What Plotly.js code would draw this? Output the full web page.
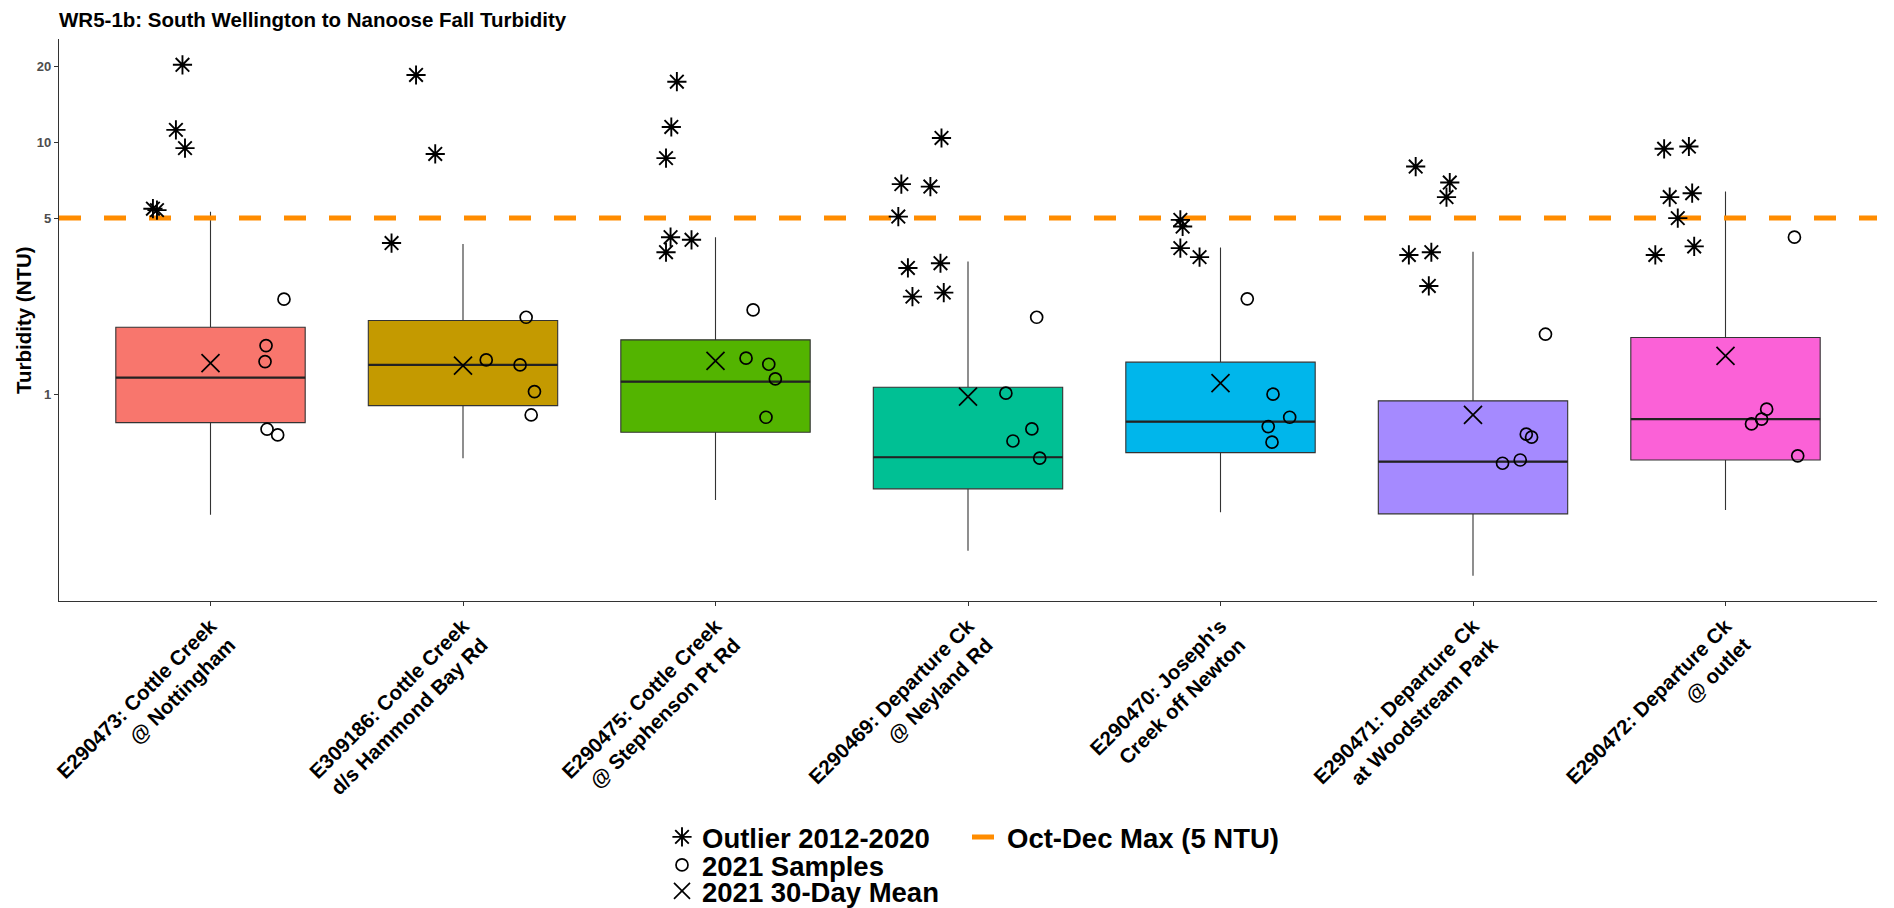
<!DOCTYPE html>
<html>
<head>
<meta charset="utf-8">
<script src="https://cdn.plot.ly/plotly-3.0.1.min.js"></script>
<style>html,body{margin:0;padding:0;background:#fff;}#chart{width:1894px;height:908px;}</style>
</head>
<body>
<div id="chart"></div>
<script>
// ---------------- data ----------------
const stations = [
  "E290473: Cottle Creek<br>@ Nottingham",
  "E309186: Cottle Creek<br>d/s Hammond Bay Rd",
  "E290475: Cottle Creek<br>@ Stephenson Pt Rd",
  "E290469: Departure Ck<br>@ Neyland Rd",
  "E290470: Joseph's<br>Creek off Newton",
  "E290471: Departure Ck<br>at Woodstream Park",
  "E290472: Departure Ck<br>@ outlet"
];
const boxColors = ["#F8766D", "#C49A00", "#53B400", "#00C094", "#00B6EB", "#A58AFF", "#FB61D7"];

// 2012-2020 box statistics (NTU)
const lowerWhisker = [0.332, 0.557, 0.380, 0.239, 0.340, 0.190, 0.347];
const q1           = [0.771, 0.901, 0.706, 0.421, 0.586, 0.335, 0.548];
const median       = [1.164, 1.307, 1.122, 0.562, 0.778, 0.540, 0.796];
const q3           = [1.845, 1.960, 1.643, 1.066, 1.340, 0.941, 1.678];
const upperWhisker = [5.30, 3.95, 4.20, 3.36, 3.82, 3.68, 6.38];

// 2021 30-day mean (NTU)
const mean2021 = [1.328, 1.299, 1.356, 0.978, 1.106, 0.828, 1.419];

// Outliers 2012-2020 (NTU), per station, and their horizontal jitter (category units)
const outlierValues = [
  [20.3, 11.2, 9.48, 5.45, 5.38],
  [18.5, 8.99, 3.98],
  [17.4, 11.5, 8.65, 4.2, 4.1, 3.66],
  [10.4, 6.82, 6.67, 5.07, 3.31, 3.17, 2.53, 2.44],
  [4.92, 4.63, 3.8, 3.5],
  [8.01, 6.92, 6.06, 3.66, 3.57, 2.69],
  [9.62, 9.42, 6.28, 6.06, 5.0, 3.86, 3.57]
];
const outlierJitter = [
  [-0.111, -0.137, -0.101, -0.228, -0.212],
  [-0.186, -0.110, -0.283],
  [-0.153, -0.175, -0.196, -0.178, -0.095, -0.196],
  [-0.105, -0.264, -0.149, -0.276, -0.109, -0.238, -0.096, -0.220],
  [-0.159, -0.150, -0.159, -0.083],
  [-0.227, -0.092, -0.105, -0.165, -0.254, -0.175],
  [-0.145, -0.243, -0.132, -0.221, -0.189, -0.124, -0.278]
];

// 2021 samples (NTU), per station, and their horizontal jitter (category units)
const sampleValues = [
  [2.384, 1.56, 1.347, 0.726, 0.689],
  [2.02, 1.368, 1.307, 1.024, 0.827],
  [2.16, 1.39, 1.315, 1.15, 0.81],
  [2.02, 1.009, 0.728, 0.652, 0.557],
  [2.39, 1.0, 0.81, 0.744, 0.645],
  [1.73, 0.694, 0.675, 0.548, 0.532],
  [4.2, 0.872, 0.796, 0.762, 0.569]
];
const sampleJitter = [
  [0.291, 0.220, 0.216, 0.224, 0.266],
  [0.250, 0.092, 0.226, 0.283, 0.270],
  [0.149, 0.121, 0.211, 0.237, 0.200],
  [0.272, 0.150, 0.253, 0.178, 0.284],
  [0.106, 0.208, 0.274, 0.189, 0.204],
  [0.287, 0.211, 0.232, 0.187, 0.117],
  [0.273, 0.163, 0.143, 0.103, 0.286]
];

const threshold = 5; // Oct-Dec Max (5 NTU)
const yTicks = [1, 5, 10, 20];

// ---------------- chart ----------------
const W = 1894, H = 908;
const FONT = "'Liberation Sans', Arial, Helvetica, sans-serif";
const idx = stations.map((_, i) => i);
const boxWidth = 0.75;
const xRange = [-0.6, stations.length - 0.4];

const traces = [];

// threshold line (drawn first so it is under everything)
traces.push({
  type: 'scatter', mode: 'lines', name: 'Oct-Dec Max (5 NTU)',
  x: xRange, y: xRange.map(() => threshold),
  line: {color: '#FF8C00', width: 5, dash: '22px,23px'},
  legend: 'legend4', hoverinfo: 'skip'
});

idx.forEach(i => {
  traces.push({
    type: 'box', x: [i],
    q1: [q1[i]], median: [median[i]], q3: [q3[i]],
    lowerfence: [lowerWhisker[i]], upperfence: [upperWhisker[i]],
    width: boxWidth, whiskerwidth: 0, boxpoints: false,
    fillcolor: boxColors[i], line: {color: '#333333', width: 1.1},
    showlegend: false, hoverinfo: 'skip'
  });
});

// thicker median lines (ggplot style)
traces.push({
  type: 'scatter', mode: 'lines', showlegend: false, hoverinfo: 'skip',
  x: idx.flatMap(i => [i - boxWidth / 2, i + boxWidth / 2, null]),
  y: median.flatMap(m => [m, m, null]),
  line: {color: '#222222', width: 2.2}
});

traces.push({
  type: 'scatter', mode: 'markers', name: 'Outlier 2012-2020', legend: 'legend',
  x: outlierValues.flatMap((vals, i) => vals.map((v, k) => i + outlierJitter[i][k])),
  y: outlierValues.flat(),
  marker: {symbol: 'asterisk-open', size: 16, color: '#000', line: {width: 1.9, color: '#000'}},
  hoverinfo: 'skip'
});
traces.push({
  type: 'scatter', mode: 'markers', name: '2021 Samples', legend: 'legend2',
  x: sampleValues.flatMap((vals, i) => vals.map((v, k) => i + sampleJitter[i][k])),
  y: sampleValues.flat(),
  marker: {symbol: 'circle-open', size: 12, color: '#000', line: {width: 1.7, color: '#000'}},
  hoverinfo: 'skip'
});
traces.push({
  type: 'scatter', mode: 'markers', name: '2021 30-Day Mean', legend: 'legend3',
  x: idx, y: mean2021,
  marker: {symbol: 'x-thin-open', size: 18, color: '#000', line: {width: 1.7, color: '#000'}},
  hoverinfo: 'skip'
});

function legendAt(xPx, yPx) {
  return {
    xref: 'container', yref: 'container', x: xPx / W, y: 1 - yPx / H,
    xanchor: 'left', yanchor: 'middle', bgcolor: 'rgba(0,0,0,0)', borderwidth: 0,
    font: {family: FONT, size: 27.5, color: '#000', weight: 700},
    itemwidth: 30, tracegroupgap: 0
  };
}

const layout = {
  width: W, height: H,
  margin: {l: 59, r: 17, t: 39, b: 307, autoexpand: false},
  paper_bgcolor: '#ffffff', plot_bgcolor: '#ffffff',
  font: {family: FONT, color: '#000'},
  boxmode: 'overlay',
  title: {
    text: 'WR5-1b: South Wellington to Nanoose Fall Turbidity',
    xref: 'container', x: 59 / W, xanchor: 'left',
    yref: 'container', y: 1 - 20 / H, yanchor: 'middle',
    font: {family: FONT, size: 20.5, color: '#000', weight: 700}
  },
  xaxis: {
    range: xRange, tickmode: 'array', tickvals: idx, ticktext: stations,
    tickangle: -45, tickfont: {family: FONT, size: 20.5, color: '#000', weight: 700},
    showline: true, linecolor: '#333333', linewidth: 1.1, mirror: false,
    ticks: 'outside', ticklen: 4, tickcolor: '#333333', tickwidth: 1,
    showgrid: false, zeroline: false, automargin: false
  },
  yaxis: {
    type: 'log', range: [-0.821, 1.41], tickmode: 'array', tickvals: yTicks,
    ticktext: yTicks.map(String),
    tickfont: {family: FONT, size: 13, color: '#4d4d4d', weight: 700},
    showline: true, linecolor: '#333333', linewidth: 1.1, mirror: false,
    ticks: 'outside', ticklen: 4, tickcolor: '#333333', tickwidth: 1,
    showgrid: false, zeroline: false, automargin: false
  },
  annotations: [{
    text: 'Turbidity (NTU)', textangle: -90,
    xref: 'paper', x: 0, xanchor: 'center', xshift: -36,
    yref: 'paper', y: 0.5, yanchor: 'middle',
    showarrow: false,
    font: {family: FONT, size: 20.5, color: '#000', weight: 700}
  }],
  legend: legendAt(662, 837),
  legend2: legendAt(662, 865),
  legend3: legendAt(662, 891),
  legend4: legendAt(967, 837)
};

Plotly.newPlot('chart', traces, layout, {staticPlot: true, displayModeBar: false});
</script>
</body>
</html>
